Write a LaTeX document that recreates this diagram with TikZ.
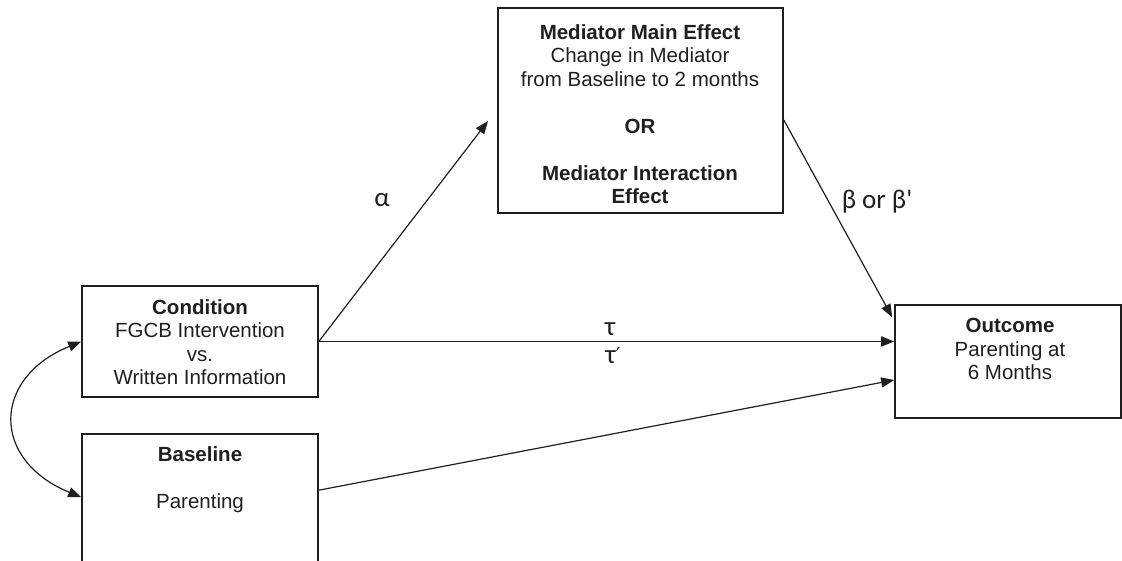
\documentclass[tikz,border=0pt]{standalone}
\usepackage{fontspec}
\setmainfont{Liberation Sans}
\newfontfamily\grk{Carlito}
\newfontfamily\djv{DejaVu Sans}
\usetikzlibrary{arrows.meta}
\begin{document}
\begin{tikzpicture}[x=1pt,y=-1pt,
  box/.style={draw=black!88, line width=1.6pt, rectangle, inner sep=0pt},
  txt/.style={align=center, font=\fontsize{20.5}{23.5}\selectfont, text=black!88, inner sep=0pt},
  lbl/.style={font=\grk\fontsize{27}{30}\selectfont, inner sep=0pt, text=black!88},
  conn/.style={line width=1.2pt, draw=black!88, -{Triangle[length=13pt,width=10pt]}},
]
\useasboundingbox (0,0) rectangle (1122,561);
\clip (0,0) rectangle (1122,561);

% boxes
\node[box, minimum width=236pt, minimum height=111pt] (cond) at (200,341.5) {};
\node[box, minimum width=236pt, minimum height=166pt] (base) at (200,517) {};
\node[box, minimum width=285pt, minimum height=205pt] (med) at (640.5,110.5) {};
\node[box, minimum width=226pt, minimum height=113pt] (out) at (1008,361.5) {};

% texts
\node[txt] (condT) at (200,342) {\textbf{Condition}\\FGCB Intervention\\vs.\\Written Information};
\node[txt] (baseT) at (200,480) {\textbf{Baseline}\\[23.5pt]Parenting};
\node[txt] (medT) at (640,114) {\textbf{Mediator Main Effect}\\Change in Mediator\\from Baseline to 2 months\\[23.5pt]\textbf{OR}\\[23.5pt]\textbf{Mediator Interaction}\\\textbf{Effect}};
\node[txt] (outT) at (1010,349) {\textbf{Outcome}\\Parenting at\\6 Months};

% labels
\node[lbl] (la) at (382,200) {α};
\node[lbl] (lt) at (610,329) {τ};
\node[lbl] (ltp) at (613,356) {τ{\djv\fontsize{22}{24}\selectfont ′}};
\node[lbl] (lb) at (877,202) {β or β'};

% connector end points
\coordinate (atip) at (488,121);
\path (med.east) ++(0,9.5) coordinate (b0);
\path (out.north west) ++(-2,13) coordinate (b1);
\path (base.north east) ++(0,57) coordinate (c0);
\path (out.west) ++(0,18.5) coordinate (c1);
\path (base.north west) ++(0,64) coordinate (bw);

% connectors
\draw[conn] (cond.east) -- (atip);
\draw[conn] (cond.east) -- (cond.east -| out.west);
\draw[conn] (b0) -- (b1);
\draw[conn] (c0) -- (c1);
\draw[line width=1.2pt, draw=black!88, {Triangle[length=13pt,width=10pt]}-{Triangle[length=13pt,width=10pt]}]
  (cond.west) .. controls +(-90,37) and +(-90,-37) .. (bw);
\end{tikzpicture}
\end{document}
